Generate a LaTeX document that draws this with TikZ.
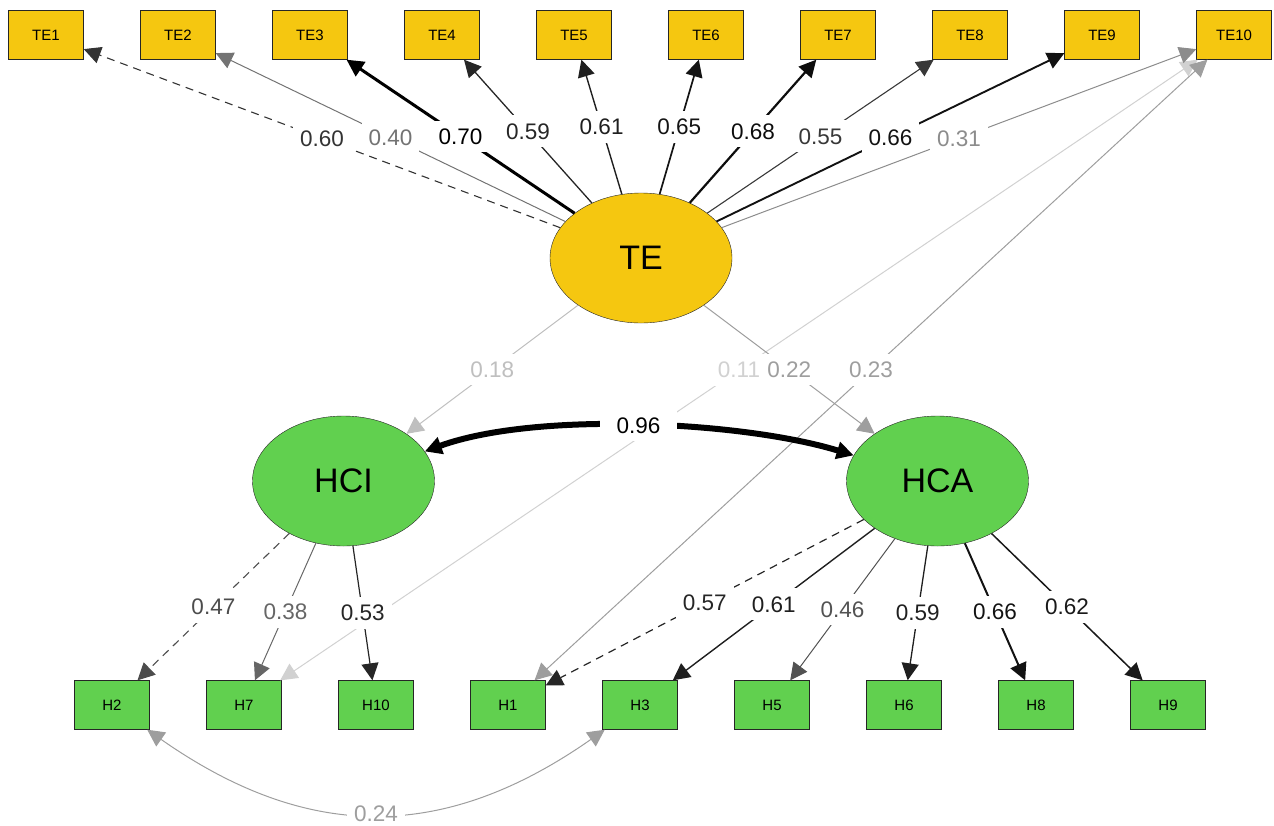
\documentclass[tikz,border=0pt]{standalone}
\usepackage{fontspec}
\setmainfont{Liberation Sans}
\usetikzlibrary{shapes.geometric,arrows.meta}
\definecolor{semyellow}{HTML}{F5C710}
\definecolor{semgreen}{HTML}{61D04F}

\begin{document}
\begin{tikzpicture}[x=1pt, y=1pt,
      man/.style={draw=black!85, fill=semyellow, minimum width=75pt, minimum height=49pt, inner sep=0pt, font=\fontsize{15}{15}\selectfont},
      lat/.style={ellipse, draw=black!85, fill=semyellow, minimum width=182pt, minimum height=130pt, inner sep=0pt, font=\fontsize{34}{34}\selectfont},
      est/.style={fill=white, inner xsep=7pt, inner ysep=8pt, font=\fontsize{22.5}{22.5}\selectfont},
      fixd/.style={dash pattern=on 8pt off 6pt},
      >={Triangle[length=17pt, width=17pt]}]
   \useasboundingbox (0,0) rectangle (1274,-825);

   \node[lat] (TE) at (641,-258) {TE};
   \node[lat, fill=semgreen] (HCI) at (343.5,-481) {HCI};
   \node[lat, fill=semgreen] (HCA) at (937.5,-481) {HCA};

   \node[man] (TE1) at (46,-35) {TE1};
   \node[man] (TE2) at (178,-35) {TE2};
   \node[man] (TE3) at (310,-35) {TE3};
   \node[man] (TE4) at (442,-35) {TE4};
   \node[man] (TE5) at (574,-35) {TE5};
   \node[man] (TE6) at (706,-35) {TE6};
   \node[man] (TE7) at (838,-35) {TE7};
   \node[man] (TE8) at (970,-35) {TE8};
   \node[man] (TE9) at (1102,-35) {TE9};
   \node[man] (TE10) at (1234,-35) {TE10};

   \node[man, fill=semgreen] (H2) at (112,-705) {H2};
   \node[man, fill=semgreen] (H7) at (244,-705) {H7};
   \node[man, fill=semgreen] (H10) at (376,-705) {H10};
   \node[man, fill=semgreen] (H1) at (508,-705) {H1};
   \node[man, fill=semgreen] (H3) at (640,-705) {H3};
   \node[man, fill=semgreen] (H5) at (772,-705) {H5};
   \node[man, fill=semgreen] (H6) at (904,-705) {H6};
   \node[man, fill=semgreen] (H8) at (1036,-705) {H8};
   \node[man, fill=semgreen] (H9) at (1168,-705) {H9};

   \draw[<->, color=black!18, line width=1pt] (TE10) -- (H7) node[est, midway] {0.11};
   \draw[<->, color=black!38, line width=1pt] (TE10) -- (H1) node[est, midway] {0.23};
   \draw[->, color=black!25, line width=1pt] (TE) -- (HCI) node[est, midway] {0.18};
   \draw[->, color=black!38, line width=1pt] (TE) -- (HCA) node[est, midway] {0.22};

   \draw[->, color=black!80, line width=1.1pt, fixd] (TE) -- (TE1) node[est, midway] {0.60};
   \draw[->, color=black!55, line width=1pt] (TE) -- (TE2) node[est, midway] {0.40};
   \draw[->, color=black, line width=3pt] (TE) -- (TE3) node[est, midway] {0.70};
   \draw[->, color=black!85, line width=1.3pt] (TE) -- (TE4) node[est, midway] {0.59};
   \draw[->, color=black!88, line width=1.4pt] (TE) -- (TE5) node[est, midway] {0.61};
   \draw[->, color=black!92, line width=1.7pt] (TE) -- (TE6) node[est, midway] {0.65};
   \draw[->, color=black!95, line width=2.2pt] (TE) -- (TE7) node[est, midway] {0.68};
   \draw[->, color=black!78, line width=1.1pt] (TE) -- (TE8) node[est, midway] {0.55};
   \draw[->, color=black!93, line width=1.9pt] (TE) -- (TE9) node[est, midway] {0.66};
   \draw[->, color=black!45, line width=1pt] (TE) -- (TE10) node[est, midway] {0.31};

   \draw[->, color=black!70, line width=1.1pt, fixd] (HCI) -- (H2) node[est, midway] {0.47};
   \draw[->, color=black!60, line width=1pt] (HCI) -- (H7) node[est, midway] {0.38};
   \draw[->, color=black!85, line width=1.2pt] (HCI) -- (H10) node[est, midway] {0.53};

   \draw[->, color=black!85, line width=1.2pt, fixd] (HCA) -- (H1) node[est, midway] {0.57};
   \draw[->, color=black!88, line width=1.4pt] (HCA) -- (H3) node[est, midway] {0.61};
   \draw[->, color=black!68, line width=1pt] (HCA) -- (H5) node[est, midway] {0.46};
   \draw[->, color=black!88, line width=1.3pt] (HCA) -- (H6) node[est, midway] {0.59};
   \draw[->, color=black!93, line width=2pt] (HCA) -- (H8) node[est, midway] {0.66};
   \draw[->, color=black!90, line width=1.5pt] (HCA) -- (H9) node[est, midway] {0.62};

   \draw[<->, color=black, line width=6pt] (HCI) to[out=20, in=163, looseness=0.7] node[est, midway, inner xsep=17pt] {0.96} (HCA);
   \draw[<->, color=black!38, line width=1pt] (H2) to[out=-35, in=-145, looseness=1.1] node[est, midway] {0.24} (H3);
\end{tikzpicture}
\end{document}
